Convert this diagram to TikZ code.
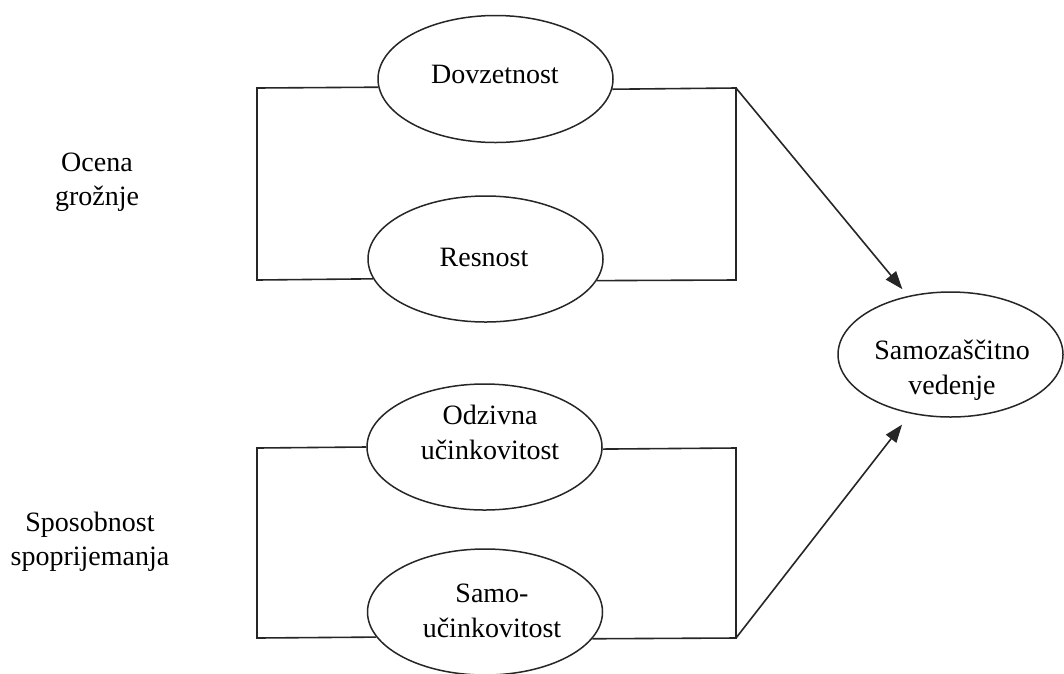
\documentclass[tikz,border=0pt]{standalone}
\usepackage{fontspec}
\setmainfont{Liberation Serif}
\usetikzlibrary{arrows.meta,shapes.geometric}
\begin{document}
\begin{tikzpicture}[x=1pt,y=-1pt,
  oval/.style={draw=black!85, line width=1.5pt, ellipse, inner sep=0pt, minimum width=235pt, minimum height=127pt},
  txt/.style={font=\fontsize{28}{35}\selectfont, align=center, inner sep=0pt},
  ln/.style={draw=black!85, line width=1.6pt},
  arr/.style={ln, -{Triangle[length=18pt,width=13pt]}}]
\useasboundingbox (0,0) rectangle (1064,673);
\fill[white] (0,0) rectangle (1064,673);

% ellipses
\node[oval, label={[txt,xshift=-0.5pt,yshift=5pt]center:Dovzetnost}] (dov) at (495.5,79) {};
\node[oval, minimum height=126pt, label={[txt,xshift=-1.5pt,yshift=1.5pt]center:Resnost}] (res) at (485.5,259) {};
\node[oval, minimum height=126pt, label={[txt,xshift=5.5pt,yshift=14.5pt]center:{Odzivna\\učinkovitost}}] (odz) at (484.5,447) {};
\node[oval, minimum height=126pt, label={[txt,xshift=7pt,yshift=1pt]center:{Samo-\\učinkovitost}}] (sam) at (485,612) {};
\node[oval, minimum width=225pt, minimum height=125pt, label={[txt,xshift=1.5pt,yshift=-15.5pt]center:{Samozaščitno\\vedenje}}] (szv) at (950.5,354.5) {};

% side labels
\node[txt, font=\fontsize{28}{34}\selectfont] (ocena) at (97,182) {Ocena\\grožnje};
\node[txt, font=\fontsize{28}{34}\selectfont] (sposob) at (90,542) {Sposobnost\\spoprijemanja};

% bracket corners
\coordinate (tl) at (257,88);
\coordinate (bl) at (257,280);
\coordinate (tr) at (736,88);
\coordinate (br) at (736,280);
\coordinate (tl2) at (257,448);
\coordinate (bl2) at (257,638);
\coordinate (tr2) at (736,448);
\coordinate (br2) at (736,638);

% top bracket
\draw[ln] (dov.184.42) -- (tl) -- (bl) -- (res.190.73);
\draw[ln] (dov.355.58) -- (tr) -- (br) -- (res.349.27);
% bottom bracket
\draw[ln] (odz.180.5) -- (tl2) -- (bl2) -- (sam.193.66);
\draw[ln] (odz.359.5) -- (tr2) -- (br2) -- (sam.346.34);

% arrows
\draw[arr, shorten >=8.7pt] (tr) -- (szv.126.64);
\draw[arr, shorten >=13.8pt] (br2) -- (szv.236.35);
\end{tikzpicture}
\end{document}
